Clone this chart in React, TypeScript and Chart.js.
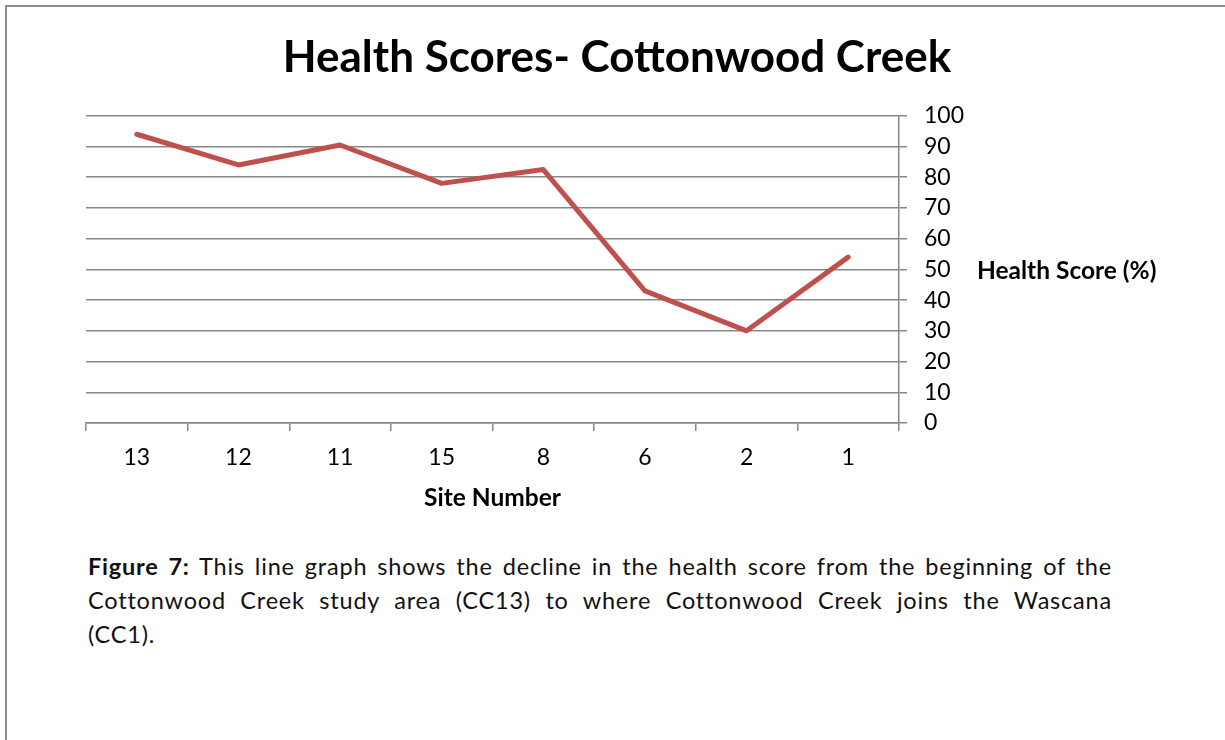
import React, { useEffect, useRef } from "react";
import { Chart, registerables } from "chart.js";

Chart.register(...registerables);

const sites = ["13", "12", "11", "15", "8", "6", "2", "1"];
const healthScores = [94, 84, 90.5, 78, 82.5, 43, 30, 54];
const chartTitle = "Health Scores- Cottonwood Creek";
const xAxisTitle = "Site Number";
const yAxisTitle = "Health Score (%)";
const captionBold = "Figure 7:";
const captionLine1 = " This line graph shows the decline in the health score from the beginning of the";
const captionLine2 = "Cottonwood Creek study area (CC13) to where Cottonwood Creek joins the Wascana";
const captionLine3 = "(CC1).";

const FONT = "Lato, 'Open Sans', sans-serif";
const GRID = "#878787";

export default function App() {
  const canvasRef = useRef<HTMLCanvasElement | null>(null);

  useEffect(() => {
    const canvas = canvasRef.current;
    if (!canvas) return;
    const chart = new Chart(canvas, {
      type: "line",
      data: {
        labels: sites,
        datasets: [
          {
            label: yAxisTitle,
            data: healthScores,
            borderColor: "#C0504D",
            backgroundColor: "#C0504D",
            borderWidth: 5,
            borderCapStyle: "round",
            borderJoinStyle: "round",
            pointRadius: 0,
            tension: 0,
            fill: false,
          },
        ],
      },
      options: {
        responsive: false,
        animation: false,
        layout: { padding: { left: 86, right: 77, top: 0, bottom: 7 } },
        plugins: {
          legend: { display: false },
          tooltip: { enabled: false },
          title: {
            display: true,
            text: chartTitle,
            color: "#000",
            font: { family: FONT, size: 44, weight: "bold", lineHeight: 1.2 },
            padding: { top: 31, bottom: 32 },
          },
        },
        scales: {
          x: {
            type: "category",
            offset: true,
            position: "bottom",
            afterFit: (s: any) => {
              s.height = 100;
            },
            grid: {
              display: true,
              offset: true,
              drawOnChartArea: false,
              drawTicks: true,
              tickLength: 8,
              color: GRID,
              lineWidth: 1.5,
            },
            border: { display: true, color: GRID, width: 1.5 },
            ticks: {
              color: "#000",
              padding: 13,
              font: { family: FONT, size: 23 },
              maxRotation: 0,
            },
            title: {
              display: true,
              text: xAxisTitle,
              color: "#000",
              font: { family: FONT, size: 24.5, weight: "bold", lineHeight: 1.2 },
              padding: { top: 0, bottom: 10 },
            },
          },
          y: {
            position: "right",
            min: 0,
            max: 100,
            afterFit: (s: any) => {
              s.width = 249;
            },
            grid: {
              display: true,
              drawOnChartArea: true,
              drawTicks: true,
              tickLength: 8,
              color: GRID,
              lineWidth: 1.5,
            },
            border: { display: true, color: GRID, width: 1.5 },
            ticks: {
              stepSize: 10,
              color: "#000",
              padding: 17,
              font: { family: FONT, size: 23 },
            },
          },
        },
      },
    });
    return () => chart.destroy();
  }, []);

  return (
    <div
      style={{
        position: "fixed",
        left: 0,
        top: 0,
        width: 1225,
        height: 740,
        background: "#fff",
        overflow: "hidden",
      }}
    >
      <div
        style={{
          position: "absolute",
          left: 5,
          top: 5,
          right: -10,
          bottom: -10,
          borderLeft: "2px solid #8c8c8c",
          borderTop: "2px solid #8c8c8c",
        }}
      />
      <canvas
        ref={canvasRef}
        width={1225}
        height={530}
        style={{ position: "absolute", left: 0, top: 0, width: 1225, height: 530 }}
      />
      <div
        style={{
          position: "absolute",
          left: 977,
          top: 258,
          fontFamily: FONT,
          fontWeight: "bold",
          fontSize: 24.5,
          lineHeight: "24px",
          color: "#000",
          whiteSpace: "nowrap",
        }}
      >
        {yAxisTitle}
      </div>
      <div
        style={{
          position: "absolute",
          left: 88,
          top: 549,
          width: 1024,
          fontFamily: FONT,
          fontSize: 23.5,
          letterSpacing: "0.8px",
          lineHeight: "34px",
          color: "#111",
        }}
      >
        <div style={{ textAlign: "justify", textAlignLast: "justify" as any }}>
          <b>{captionBold}</b>
          {captionLine1}
        </div>
        <div style={{ textAlign: "justify", textAlignLast: "justify" as any }}>{captionLine2}</div>
        <div>{captionLine3}</div>
      </div>
    </div>
  );
}
